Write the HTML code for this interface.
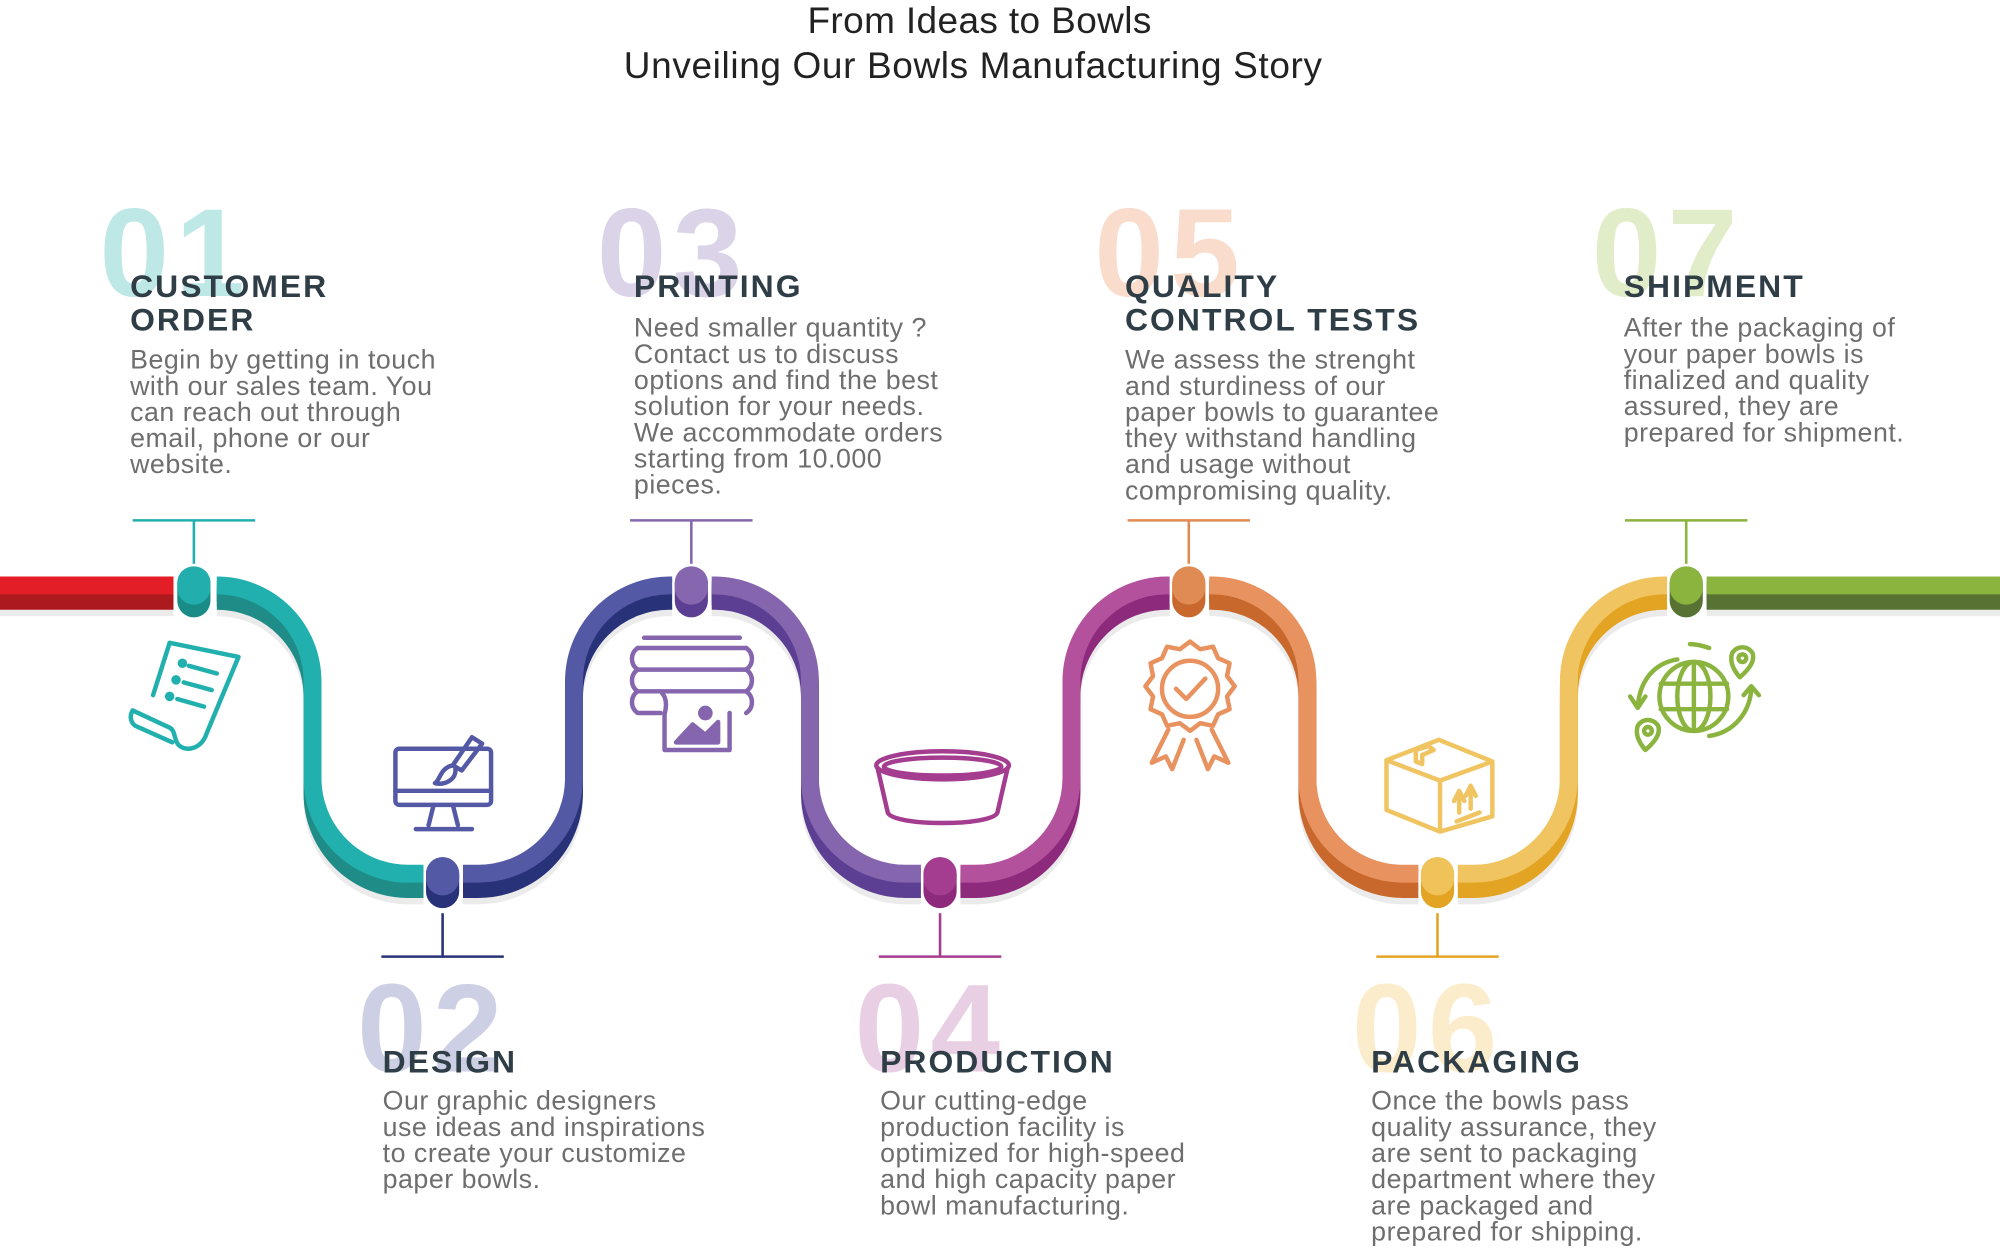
<!DOCTYPE html>
<html><head><meta charset="utf-8"><style>
html,body{margin:0;padding:0;background:#fff;width:2000px;height:1250px;overflow:hidden}
svg{display:block}
.t{font-family:"Liberation Sans",sans-serif;}
.num{font-family:"Liberation Sans",sans-serif;font-weight:700;font-size:98px;letter-spacing:5px}
.h{font-family:"Liberation Sans",sans-serif;font-weight:700;font-size:25px;fill:#2f3e46;letter-spacing:1.6px}
.b{font-family:"Liberation Sans",sans-serif;font-size:21px;fill:#6e6e6e;letter-spacing:0.4px}
</style></head><body>
<svg width="2000" height="1250" viewBox="0 0 1568 980" xmlns="http://www.w3.org/2000/svg">
<text class="t" x="768" y="26" text-anchor="middle" font-size="29" fill="#222" letter-spacing="0.3">From Ideas to Bowls</text>
<text class="t" x="763" y="61" text-anchor="middle" font-size="29" fill="#222" letter-spacing="0.5">Unveiling Our Bowls Manufacturing Story</text>

<text class="num" x="78" y="232" fill="#bde8e6">01</text>
<text class="num" x="468" y="232" fill="#dbd3e7">03</text>
<text class="num" x="858" y="232" fill="#f9dccc">05</text>
<text class="num" x="1248" y="232" fill="#e1ecc9">07</text>
<text class="num" x="280" y="840" fill="#cdcfe5">02</text>
<text class="num" x="670" y="840" fill="#e9cfe3">04</text>
<text class="num" x="1060" y="840" fill="#fbeccc">06</text>

<text class="h" x="102" y="233">CUSTOMER</text><text class="h" x="102" y="259">ORDER</text>
<text class="b"><tspan x="102" y="289">Begin by getting in touch</tspan><tspan x="102" y="309.5">with our sales team. You</tspan><tspan x="102" y="330">can reach out through</tspan><tspan x="102" y="350.5">email, phone or our</tspan><tspan x="102" y="371">website.</tspan></text>

<text class="h" x="497" y="233">PRINTING</text>
<text class="b"><tspan x="497" y="264">Need smaller quantity ?</tspan><tspan x="497" y="284.5">Contact us to discuss</tspan><tspan x="497" y="305">options and find the best</tspan><tspan x="497" y="325.5">solution for your needs.</tspan><tspan x="497" y="346">We accommodate orders</tspan><tspan x="497" y="366.5">starting from 10.000</tspan><tspan x="497" y="387">pieces.</tspan></text>

<text class="h" x="882" y="233">QUALITY</text><text class="h" x="882" y="259">CONTROL TESTS</text>
<text class="b"><tspan x="882" y="289">We assess the strenght</tspan><tspan x="882" y="309.5">and sturdiness of our</tspan><tspan x="882" y="330">paper bowls to guarantee</tspan><tspan x="882" y="350.5">they withstand handling</tspan><tspan x="882" y="371">and usage without</tspan><tspan x="882" y="391.5">compromising quality.</tspan></text>

<text class="h" x="1273" y="233">SHIPMENT</text>
<text class="b"><tspan x="1273" y="264">After the packaging of</tspan><tspan x="1273" y="284.5">your paper bowls is</tspan><tspan x="1273" y="305">finalized and quality</tspan><tspan x="1273" y="325.5">assured, they are</tspan><tspan x="1273" y="346">prepared for shipment.</tspan></text>

<text class="h" x="300" y="841">DESIGN</text>
<text class="b"><tspan x="300" y="870">Our graphic designers</tspan><tspan x="300" y="890.5">use ideas and inspirations</tspan><tspan x="300" y="911">to create your customize</tspan><tspan x="300" y="931.5">paper bowls.</tspan></text>

<text class="h" x="690" y="841">PRODUCTION</text>
<text class="b"><tspan x="690" y="870">Our cutting-edge</tspan><tspan x="690" y="890.5">production facility is</tspan><tspan x="690" y="911">optimized for high-speed</tspan><tspan x="690" y="931.5">and high capacity paper</tspan><tspan x="690" y="952">bowl manufacturing.</tspan></text>

<text class="h" x="1075" y="841">PACKAGING</text>
<text class="b"><tspan x="1075" y="870">Once the bowls pass</tspan><tspan x="1075" y="890.5">quality assurance, they</tspan><tspan x="1075" y="911">are sent to packaging</tspan><tspan x="1075" y="931.5">department where they</tspan><tspan x="1075" y="952">are packaged and</tspan><tspan x="1075" y="972.5">prepared for shipping.</tspan></text>

<g stroke-width="2" fill="none">
<path d="M104 408H200M152 408V446" stroke="#22b0ae"/>
<path d="M494 408H590M542 408V446" stroke="#8565ae"/>
<path d="M884 408H980M932 408V446" stroke="#e08a54"/>
<path d="M1274 408H1370M1322 408V446" stroke="#8bb43f"/>
<path d="M299 750H395M347 750V712" stroke="#283278"/>
<path d="M689 750H785M737 750V712" stroke="#a43c8f"/>
<path d="M1079 750H1175M1127 750V712" stroke="#e3a423"/>
</g>

<defs>
<path id="s0" d="M0 466H136"/>
<path id="s1" d="M170 466A75 75 0 0 1 245 541V617A75 75 0 0 0 320 692H332"/>
<path id="s2" d="M363 692H375A75 75 0 0 0 450 617V541A75 75 0 0 1 525 466H527"/>
<path id="s3" d="M558 466H560A75 75 0 0 1 635 541V617A75 75 0 0 0 710 692H722"/>
<path id="s4" d="M753 692H765A75 75 0 0 0 840 617V541A75 75 0 0 1 915 466H917"/>
<path id="s5" d="M948 466H950A75 75 0 0 1 1025 541V617A75 75 0 0 0 1100 692H1112"/>
<path id="s6" d="M1143 692H1155A75 75 0 0 0 1230 617V541A75 75 0 0 1 1305 466H1307"/>
<path id="s7" d="M1338 466H1568"/>
<g id="dk" stroke-width="14">
<use href="#s0" stroke="#ad1a1d"/><use href="#s1" stroke="#1f8c87"/><use href="#s2" stroke="#283278"/><use href="#s3" stroke="#5c3f93"/><use href="#s4" stroke="#8e2a7b"/><use href="#s5" stroke="#c8682c"/><use href="#s6" stroke="#e3a423"/><use href="#s7" stroke="#577233"/></g>
</defs>
<g fill="none">
<g stroke="#ebebeb" stroke-width="14" transform="translate(0,10)">
<use href="#s0"/><use href="#s1"/><use href="#s2"/><use href="#s3"/><use href="#s4"/><use href="#s5"/><use href="#s6"/><use href="#s7"/></g>
<use href="#dk" transform="translate(0,-4)"/>
<use href="#dk" transform="translate(0,-1)"/>
<use href="#dk" transform="translate(0,2)"/>
<use href="#dk" transform="translate(0,5)"/>
<g stroke-width="14" transform="translate(0,-7)">
<use href="#s0" stroke="#e31e26"/><use href="#s1" stroke="#22b0ae"/><use href="#s2" stroke="#5459a5"/><use href="#s3" stroke="#8565ae"/><use href="#s4" stroke="#b4519c"/><use href="#s5" stroke="#e8925f"/><use href="#s6" stroke="#f0c461"/><use href="#s7" stroke="#8bb43f"/></g>
</g>

<g>
<rect x="137" y="442" width="30" height="46" rx="15" fill="#fff"/><rect x="139" y="444" width="26" height="40" rx="13" fill="#1a8c88"/><rect x="139" y="444" width="26" height="30" rx="13" fill="#22aeac"/>
<rect x="527" y="442" width="30" height="46" rx="15" fill="#fff"/><rect x="529" y="444" width="26" height="40" rx="13" fill="#5c3f93"/><rect x="529" y="444" width="26" height="30" rx="13" fill="#8666ae"/>
<rect x="917" y="442" width="30" height="46" rx="15" fill="#fff"/><rect x="919" y="444" width="26" height="40" rx="13" fill="#c8682c"/><rect x="919" y="444" width="26" height="30" rx="13" fill="#e08a54"/>
<rect x="1307" y="442" width="30" height="46" rx="15" fill="#fff"/><rect x="1309" y="444" width="26" height="40" rx="13" fill="#577233"/><rect x="1309" y="444" width="26" height="30" rx="13" fill="#8bb43f"/>
<rect x="332" y="670" width="30" height="46" rx="15" fill="#fff"/><rect x="334" y="672" width="26" height="40" rx="13" fill="#283278"/><rect x="334" y="672" width="26" height="30" rx="13" fill="#5459a5"/>
<rect x="722" y="670" width="30" height="46" rx="15" fill="#fff"/><rect x="724" y="672" width="26" height="40" rx="13" fill="#8e2a7b"/><rect x="724" y="672" width="26" height="30" rx="13" fill="#a43c8f"/>
<rect x="1112" y="670" width="30" height="46" rx="15" fill="#fff"/><rect x="1114" y="672" width="26" height="40" rx="13" fill="#e3a423"/><rect x="1114" y="672" width="26" height="30" rx="13" fill="#f0c25a"/>
</g>

<g fill="none" stroke-width="3.5" stroke-linecap="round" stroke-linejoin="round">
<g stroke="#22b0ae">
<path d="M133 504L187 515L162 575C158 587 146 590 140 584C136 580 138 572 132 570L104 557C101 562 103 567 106 569L135 582"/>
<path d="M133 504L120 545"/>
<path d="M148 522L170 528M144 535L166 541M139 548L160 554"/>
<circle cx="143" cy="520" r="2" fill="#22b0ae"/><circle cx="138" cy="533" r="2" fill="#22b0ae"/><circle cx="133" cy="546" r="2" fill="#22b0ae"/>
</g>
<g stroke="#5459a5">
<rect x="310" y="587" width="75" height="44" rx="3"/>
<path d="M310 620H385M340 631L336 647M355 631L359 647M326 650H370"/>
<path d="M370 578L378 583L362 604L355 600Z M355 600C345 602 345 612 341 614C350 616 358 610 357 603"/>
</g>
<g stroke="#8565ae">
<path d="M505 500H580M500 508H585M500 525H585M500 542H585"/>
<path d="M500 508C494 512 494 521 500 525C494 529 494 538 500 542C494 546 494 555 500 559H518"/>
<path d="M585 508C591 512 591 521 585 525C591 529 591 538 585 542C591 546 591 555 585 559"/>
<path d="M518 542C524 548 522 556 521 560V588H572V559"/>
<circle cx="553" cy="559" r="4" fill="#8565ae"/>
<path d="M530 582L543 568L553 576L563 566V582Z" fill="#8565ae"/>
</g>
<g stroke="#a43c8f">
<ellipse cx="739" cy="600" rx="52" ry="11"/>
<ellipse cx="739" cy="601" rx="46" ry="7"/>
<path d="M688 602L696 637C700 648 778 648 782 637L790 602"/>
</g>
<g stroke="#e8925f">
<path d="M933 503l8 6 10-2 4 9 9 4-2 10 6 8-6 8 2 10-9 4-4 9-10-2-8 6-8-6-10 2-4-9-9-4 2-10-6-8 6-8-2-10 9-4 4-9 10 2z"/>
<circle cx="933" cy="540" r="22"/>
<path d="M922 540L930 548L945 532"/>
<path d="M916 572L903 598L914 593L919 603L928 580M950 572L963 598L952 593L947 603L938 580"/>
</g>
<g stroke="#f0c461">
<path d="M1087 596L1128 580L1170 597L1170 640L1129 652L1087 635Z M1087 596L1129 612L1170 597 M1129 612V652"/>
<path d="M1110 588L1120 585L1124 588L1115 592V599L1110 597Z"/>
<path d="M1144 637V624M1140 628L1144 620L1148 628M1153 634V620M1149 624L1153 616L1157 624M1142 644L1160 637"/>
</g>
<g stroke="#8bb43f">
<circle cx="1328" cy="546" r="27"/>
<ellipse cx="1328" cy="546" rx="13" ry="27"/>
<path d="M1328 519V573M1302 536H1354M1302 556H1354"/>
<path d="M1315 517C1296 520 1285 535 1284 555M1278 546L1284 555L1290 546"/>
<path d="M1340 577C1360 574 1372 558 1373 540M1367 545L1373 538L1379 545"/>
<path d="M1340 508C1334 506 1330 505 1325 505"/>
<path d="M1364 531C1358 524 1356 518 1358 512C1362 506 1370 506 1374 512C1376 518 1372 524 1364 531Z"/>
<circle cx="1366" cy="516" r="3"/>
<path d="M1290 588C1284 581 1282 575 1284 569C1288 563 1296 563 1300 569C1302 575 1298 581 1290 588Z"/>
<circle cx="1292" cy="573" r="3"/>
</g>
</g>
</svg>
</body></html>
